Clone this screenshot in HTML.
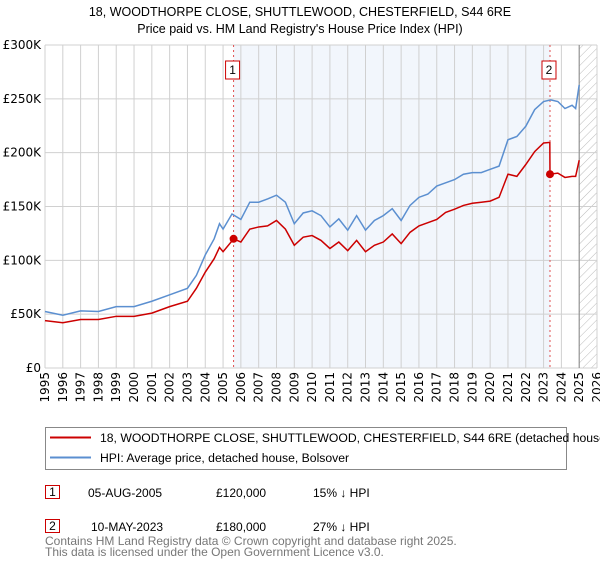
<!DOCTYPE html>
<html><head><meta charset="utf-8"><style>
body{margin:0;background:#fff;font-family:"Liberation Sans",sans-serif;}
svg text{font-family:"Liberation Sans",sans-serif;}
svg text.tick{font-family:"DejaVu Sans","Liberation Sans",sans-serif;}
</style></head><body>
<svg id="chart" width="600" height="560" xmlns="http://www.w3.org/2000/svg">
<defs><pattern id="hatch" width="6" height="6" patternUnits="userSpaceOnUse" patternTransform="rotate(45)"><line x1="0" y1="0" x2="0" y2="6" stroke="#bbb" stroke-width="1"/></pattern></defs>
<text x="300" y="16" text-anchor="middle" font-size="12.5">18, WOODTHORPE CLOSE, SHUTTLEWOOD, CHESTERFIELD, S44 6RE</text>
<text x="300" y="33" text-anchor="middle" font-size="12.5">Price paid vs. HM Land Registry's House Price Index (HPI)</text>
<g id="plot"></g>
<g>
<rect x="45.5" y="427.5" width="521" height="42" fill="#fff" stroke="#888"/>
<line x1="50" y1="437.5" x2="91" y2="437.5" stroke="#cc0000" stroke-width="2"/>
<text x="100" y="442" font-size="12.2">18, WOODTHORPE CLOSE, SHUTTLEWOOD, CHESTERFIELD, S44 6RE (detached house)</text>
<line x1="50" y1="457.5" x2="91" y2="457.5" stroke="#5b8fd0" stroke-width="2"/>
<text x="100" y="462" font-size="12.2">HPI: Average price, detached house, Bolsover</text>
</g>
<g font-size="12">
<rect x="45.5" y="485.5" width="14" height="13" fill="#fff" stroke="#cc0000"/><text x="52.5" y="496" text-anchor="middle">1</text>
<text x="88" y="497">05-AUG-2005</text><text x="216" y="497">£120,000</text><text x="313" y="497">15% ↓ HPI</text>
<rect x="45.5" y="519.5" width="14" height="13" fill="#fff" stroke="#cc0000"/><text x="52.5" y="530" text-anchor="middle">2</text>
<text x="91" y="531">10-MAY-2023</text><text x="216" y="531">£180,000</text><text x="313" y="531">27% ↓ HPI</text>
</g>
<text x="45" y="545" font-size="12" fill="#777">Contains HM Land Registry data © Crown copyright and database right 2025.</text>
<text x="45" y="556" font-size="12" fill="#777">This data is licensed under the Open Government Licence v3.0.</text>
</svg>
<script>
const hpiYears=[1995,1996,1997,1998,1999,2000,2001,2002,2003,2003.5,2004,2004.5,2004.8,2005,2005.5,2006,2006.5,2007,2007.5,2008,2008.5,2009,2009.5,2010,2010.5,2011,2011.5,2012,2012.5,2013,2013.5,2014,2014.5,2015,2015.5,2016,2016.5,2017,2017.5,2018,2018.5,2019,2019.5,2020,2020.5,2021,2021.5,2022,2022.5,2023,2023.4,2023.8,2024.2,2024.6,2024.8,2025];
const hpiValues=[52.5,49,53,52.5,57,57,62,68,74,86,105,120,134,129,143,138,154,154,157,160.5,154,134,144,146,141.5,131,138.5,128,141.5,128,137,141.5,148,137,151,158.5,161.5,169,172,175,180,181.5,181.5,184.5,187.5,212,215,224.5,240,247.5,249,247.5,241,244,241,263];
const priceYears=[1995,1996,1997,1998,1999,2000,2001,2002,2003,2003.5,2004,2004.5,2004.8,2005,2005.6,2006,2006.5,2007,2007.5,2008,2008.5,2009,2009.5,2010,2010.5,2011,2011.5,2012,2012.5,2013,2013.5,2014,2014.5,2015,2015.5,2016,2016.5,2017,2017.5,2018,2018.5,2019,2019.5,2020,2020.5,2021,2021.5,2022,2022.5,2023,2023.35,2023.36,2023.8,2024.2,2024.6,2024.8,2025];
const priceValues=[44,42,45,45,48,48,51,57,62,74,89,101.5,112,108,120,117,129,131,132,137,129,114,121.5,123,118.5,111,117,109,118.5,108,114,117,124.5,115.5,126,132,135,138,144.5,147.5,151,153,154,155,158.5,180,178,189,201,209,209.5,180,181,177,178,178,193];
const saleYears=[2005.59,2023.36];
const saleValues=[120,180];
const saleLabels=["1","2"];
const yTicks=[0,50,100,150,200,250,300];
const yTickLabels=["£0","£50K","£100K","£150K","£200K","£250K","£300K"];
const xTicks=[1995,1996,1997,1998,1999,2000,2001,2002,2003,2004,2005,2006,2007,2008,2009,2010,2011,2012,2013,2014,2015,2016,2017,2018,2019,2020,2021,2022,2023,2024,2025,2026];

const L=45,R=597,T=45,B=368;
const xs=y=>L+(y-1995)/(2026-1995)*(R-L);
const ys=v=>B-v/300*(B-T);
const NS="http://www.w3.org/2000/svg";
const g=document.getElementById('plot');
function mk(tag,attrs,parent){const e=document.createElementNS(NS,tag);for(const k in attrs)e.setAttribute(k,attrs[k]);(parent||g).appendChild(e);return e;}

let e=mk('rect',{x:xs(saleYears[0]),y:T,width:xs(saleYears[1])-xs(saleYears[0]),height:B-T,fill:'#edf2fb',opacity:0.7});


e=mk('rect',{x:xs(2025),y:T,width:xs(2026)-xs(2025),height:B-T,fill:'url(#hatch)'});


xTicks.forEach(t=>{
  const x=xs(t);
  let l=mk('line',{x1:x,x2:x,y1:T,y2:B,stroke:'#d0d0d0','stroke-width':1});
  
  
  let tx=mk('text',{x:0,y:0,'font-size':12,'class':'tick','text-anchor':'end',transform:`translate(${x+4},${B+4}) rotate(-90)`});
  tx.textContent=t;
  
  
});
yTicks.forEach((t,i)=>{
  const y=ys(t);
  let l=mk('line',{x1:L,x2:R,y1:y,y2:y,stroke:'#d0d0d0','stroke-width':1});
  
  
  let tx=mk('text',{x:L-4,y:y+4,'font-size':12,'class':'tick','text-anchor':'end'});
  tx.textContent=yTickLabels[i];
  
  
});
e=mk('line',{x1:xs(2025),x2:xs(2025),y1:T,y2:B,stroke:'#888','stroke-width':1});


saleYears.forEach((s,i)=>{
  const x=xs(s);
  let l=mk('line',{x1:x,x2:x,y1:T,y2:B,stroke:'#e05050','stroke-width':1,'stroke-dasharray':'2,3'});
  
  
  let r=mk('rect',{x:x-8,y:61,width:14,height:18,fill:'#fff',stroke:'#cc0000'});
  
  
  let tx=mk('text',{x:x-1,y:74,'font-size':12,'text-anchor':'middle'});
  tx.textContent=saleLabels[i];
  
  
});
e=mk('polyline',{points:hpiYears.map((y,i)=>xs(y)+','+ys(hpiValues[i])).join(' '),fill:'none',stroke:'#5b8fd0','stroke-width':1.5});


e=mk('polyline',{points:priceYears.map((y,i)=>xs(y)+','+ys(priceValues[i])).join(' '),fill:'none',stroke:'#cc0000','stroke-width':1.5});


saleYears.forEach((s,i)=>{
  let c=mk('circle',{cx:xs(s),cy:ys(saleValues[i]),r:4,fill:'#cc0000'});
  
  
});
</script>
</body></html>
